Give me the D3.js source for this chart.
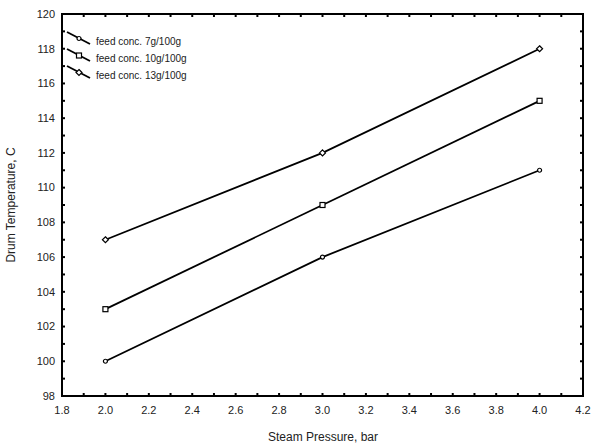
<!DOCTYPE html>
<style>
body { margin: 0; background: #fff; }
text { font-family: "Liberation Sans", Arial, sans-serif; }
</style>
<svg width="593" height="444"></svg>
<script src="https://cdnjs.cloudflare.com/ajax/libs/d3/7.8.5/d3.min.js"></script>
<script>

// data
var pressure = [2.0, 3.0, 4.0];
var seriesNames = ["feed conc. 7g/100g", "feed conc. 10g/100g", "feed conc. 13g/100g"];
var temp7 = [100, 106, 111];
var temp10 = [103, 109, 115];
var temp13 = [107, 112, 118];
var xTicks = [1.8, 2.0, 2.2, 2.4, 2.6, 2.8, 3.0, 3.2, 3.4, 3.6, 3.8, 4.0, 4.2];
var yTicks = [98, 100, 102, 104, 106, 108, 110, 112, 114, 116, 118, 120];

var svg = d3.select("svg"),
    margin = {top: 14, right: 10, bottom: 48, left: 62},
    width = 583 - margin.left,
    height = 396 - margin.top,
    g = svg.append("g").attr("transform", "translate(" + margin.left + "," + margin.top + ")");

var x = d3.scaleLinear().domain([1.8, 4.2]).range([0, width]);
var y = d3.scaleLinear().domain([98, 120]).range([height, 0]);

var shapes = ["circle", "square", "diamond"];
var series = [temp7, temp10, temp13];

// minor ticks, all pointing inward
var xMinor = d3.range(18, 43).map(function(d) { return d / 10; });
var yMinor = d3.range(98, 121);

function tickMarks(sel, vals, scale, horiz, pos, dir) {
  sel.selectAll(null).data(vals).enter().append("line")
    .attr("x1", function(d) { return horiz ? scale(d) : pos; })
    .attr("x2", function(d) { return horiz ? scale(d) : pos + dir * 3; })
    .attr("y1", function(d) { return horiz ? pos : scale(d); })
    .attr("y2", function(d) { return horiz ? pos + dir * 3 : scale(d); })
    .attr("stroke", "#000").attr("stroke-width", 2);
}
var ticks = g.append("g");
tickMarks(ticks, xMinor, x, true, height, -1);
tickMarks(ticks, xMinor, x, true, 0, 1);
tickMarks(ticks, yMinor, y, false, 0, 1);
tickMarks(ticks, yMinor, y, false, width, -1);

// frame
g.append("rect")
    .attr("width", width).attr("height", height)
    .attr("fill", "none").attr("stroke", "#000").attr("stroke-width", 2);

// tick labels
g.append("g").selectAll("text").data(xTicks).enter().append("text")
    .attr("x", function(d) { return x(d); })
    .attr("y", height + 18)
    .attr("text-anchor", "middle")
    .attr("font-size", 11)
    .attr("fill", "#222")
    .text(function(d) { return d.toFixed(1); });

g.append("g").selectAll("text").data(yTicks).enter().append("text")
    .attr("x", -7)
    .attr("y", function(d) { return y(d); })
    .attr("dy", "0.35em")
    .attr("text-anchor", "end")
    .attr("font-size", 11)
    .attr("fill", "#222")
    .text(function(d) { return d; });

// axis titles
svg.append("text")
    .attr("x", 323).attr("y", 441)
    .attr("text-anchor", "middle")
    .attr("font-size", 12)
    .attr("fill", "#222")
    .text("Steam Pressure, bar");

svg.append("text")
    .attr("transform", "translate(15," + (margin.top + height / 2) + ") rotate(-90)")
    .attr("text-anchor", "middle")
    .attr("font-size", 12)
    .attr("fill", "#222")
    .text("Drum Temperature, C");

function marker(sel, shape) {
  if (shape === "circle") {
    sel.append("circle").attr("r", 2);
  } else if (shape === "square") {
    sel.append("rect").attr("x", -2.5).attr("y", -2.5).attr("width", 5).attr("height", 5);
  } else {
    sel.append("path").attr("d", "M0,-3L3,0L0,3L-3,0Z");
  }
  sel.attr("fill", "#fff").attr("stroke", "#000").attr("stroke-width", 1.2);
}

var line = d3.line()
    .x(function(d, i) { return x(pressure[i]); })
    .y(function(d) { return y(d); });

series.forEach(function(s, k) {
  g.append("path")
      .attr("d", line(s))
      .attr("fill", "none")
      .attr("stroke", "#000")
      .attr("stroke-width", 1.8);
  s.forEach(function(v, i) {
    var m = g.append("g").attr("transform", "translate(" + x(pressure[i]) + "," + y(v) + ")");
    marker(m, shapes[k]);
  });
});

// legend
var legend = svg.append("g")
  .selectAll("g")
  .data(seriesNames)
  .enter().append("g")
    .attr("transform", function(d, i) { return "translate(0," + (i * 17) + ")"; });

legend.append("line")
    .attr("x1", 67).attr("y1", 32)
    .attr("x2", 90).attr("y2", 44)
    .attr("stroke", "#000").attr("stroke-width", 1.8);

legend.each(function(d, i) {
  var m = d3.select(this).append("g").attr("transform", "translate(79,38.5)");
  marker(m, shapes[i]);
});

legend.append("text")
    .attr("x", 96).attr("y", 41)
    .attr("dy", "0.35em")
    .attr("font-size", 10)
    .attr("fill", "#222")
    .text(function(d) { return d; });

</script>
